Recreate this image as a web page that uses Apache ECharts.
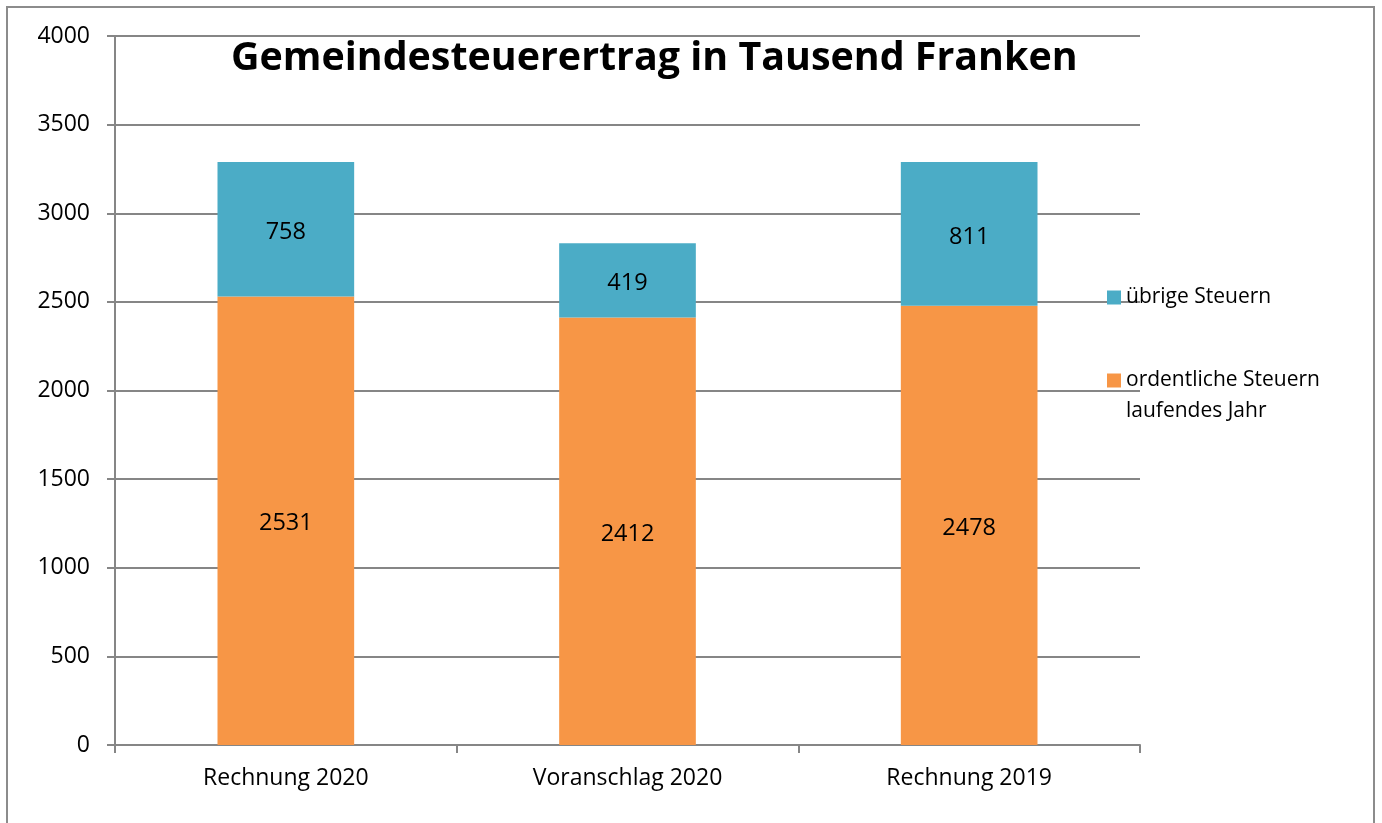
<!DOCTYPE html>
<html><head><meta charset="utf-8">
<script src="https://cdn.jsdelivr.net/npm/echarts@6/dist/echarts.min.js"></script>
<style>html,body{margin:0;padding:0;background:#fff}#c{width:1382px;height:823px}</style>
</head><body><div id="c"></div>
<script>
const categories = ['Rechnung 2020', 'Voranschlag 2020', 'Rechnung 2019'];
const ordentliche = [2531, 2412, 2478];
const uebrige = [758, 419, 811];
const yTicks = [0, 500, 1000, 1500, 2000, 2500, 3000, 3500, 4000];
const seriesNames = ['übrige Steuern', 'ordentliche Steuern\nlaufendes Jahr'];

const FONT = '"Open Sans", Lato, sans-serif';
const chart = echarts.init(document.getElementById('c'));
chart.setOption({
  backgroundColor: '#fff',
  animation: false,
  textStyle: { fontFamily: FONT, color: '#000' },
  title: {
    text: 'Gemeindesteuerertrag in Tausend Franken',
    left: 226, top: 34,
    textStyle: { fontFamily: FONT, fontSize: 39.4, fontWeight: 'bold', color: '#000' }
  },
  graphic: [{
    type: 'rect', shape: { x: 7, y: 7, width: 1367, height: 830 },
    style: { fill: 'none', stroke: '#8c8c8c', lineWidth: 2 }, silent: true
  }],
  legend: [{
    data: [{ name: seriesNames[0] }],
    left: 1107, top: 287, orient: 'vertical', padding: 0,
    itemWidth: 14, itemHeight: 14,
    icon: 'rect',
    textStyle: { fontFamily: FONT, fontSize: 21, color: '#000' }
  }, {
    data: [{ name: seriesNames[1] }],
    left: 1107, top: 334, orient: 'vertical', padding: 0,
    itemWidth: 14, itemHeight: 14,
    icon: 'rect',
    formatter: function (n) { return '\n' + n; },
    textStyle: { fontFamily: FONT, fontSize: 21, color: '#000', lineHeight: 31 }
  }],
  grid: { left: 115, right: 242, top: 36, bottom: 78, containLabel: false },
  xAxis: {
    type: 'category', data: categories,
    axisLine: { lineStyle: { color: '#868686', width: 2 } },
    axisTick: { show: true, length: 8, lineStyle: { color: '#868686', width: 2 } },
    axisLabel: { fontSize: 23, color: '#000', margin: 22, fontFamily: FONT }
  },
  yAxis: {
    type: 'value', min: yTicks[0], max: yTicks[yTicks.length - 1], interval: 500,
    axisLine: { show: true, lineStyle: { color: '#868686', width: 2 } },
    axisTick: { show: true, length: 8, lineStyle: { color: '#868686', width: 2 } },
    splitLine: { lineStyle: { color: '#868686', width: 2 } },
    axisLabel: { fontSize: 23, color: '#000', margin: 25, fontFamily: FONT, formatter: function (v) { return String(v); } }
  },
  series: [{
    name: seriesNames[1], type: 'bar', stack: 's', data: ordentliche,
    barWidth: '40%',
    itemStyle: { color: '#F79646' },
    label: { show: true, position: 'inside', fontSize: 23.5, color: '#000', fontFamily: FONT, offset: [0, 3] }
  }, {
    name: seriesNames[0], type: 'bar', stack: 's', data: uebrige,
    barWidth: '40%',
    itemStyle: { color: '#4BACC6' },
    label: { show: true, position: 'inside', fontSize: 23.5, color: '#000', fontFamily: FONT, offset: [0, 3] }
  }]
});
</script></body></html>
